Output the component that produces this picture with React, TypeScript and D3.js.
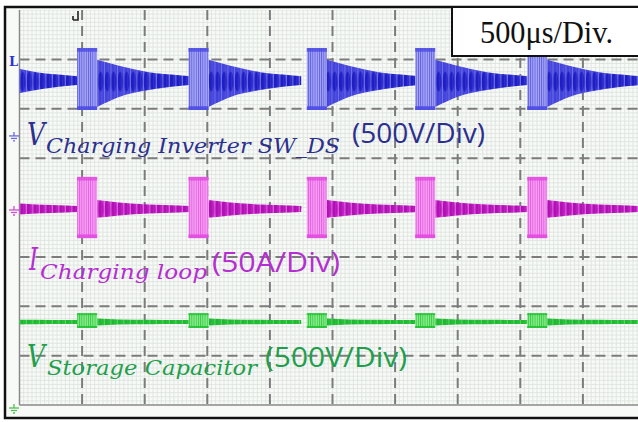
import React from "react";
import * as d3 from "d3";

// time axis: 10 div x 500us, vertical: 8 div
const burstStartsUs = [-440, 460, 1350, 2295, 3160, 4055];
const burstLenUs = 160;
const decayTimesUs = [160, 335, 575, 815, 900];

const channels = [
  {
    name: "blue",
    center: 2.55,
    burstHi: 0.68,
    burstLo: -0.575,
    decayHi: [0.44, 0.32, 0.19, 0.13, 0.11],
    decayLo: [-0.515, -0.31, -0.17, -0.09, -0.07],
    core: "#4444dc",
    dark: "#1e1ec4",
    light: "#a9a9f2",
    hatch: "#4a4ae4",
  },
  {
    name: "magenta",
    center: -0.03,
    burstHi: 0.65,
    burstLo: -0.59,
    decayHi: [0.18, 0.13, 0.09, 0.07, 0.06],
    decayLo: [-0.18, -0.13, -0.09, -0.07, -0.06],
    core: "#d43ad6",
    dark: "#b010b4",
    light: "#f4a3f2",
    hatch: "#e24ae0",
  },
  {
    name: "green",
    center: -2.32,
    burstHi: 0.18,
    burstLo: -0.12,
    decayHi: [0.07, 0.05, 0.045, 0.04, 0.04],
    decayLo: [-0.07, -0.05, -0.045, -0.04, -0.04],
    core: "#2ccc40",
    dark: "#1fb832",
    light: "#8beb8c",
    hatch: "#22c233",
  },
];

const labels = [
  { main: "V", sub: "Charging Inverter SW_DS", scale: "(500V/Div)", color: "#2b2f8e",
    mx: 27, my: 145, mw: 18, sx: 46, sy: 153, sw: 294, px: 352, py: 143, pw: 133, ps: 27 },
  { main: "I", sub: "Charging loop", scale: "(50A/Div)", color: "#b52ed0",
    mx: 29, my: 270, mw: 9, sx: 40, sy: 279, sw: 167, px: 212, py: 272, pw: 128, ps: 27 },
  { main: "V", sub: "Storage Capacitor", scale: "(500V/Div)", color: "#1f9f4c",
    mx: 27, my: 367, mw: 18, sx: 47, sy: 375, sw: 210, px: 265, py: 367, pw: 142, ps: 28 },
];

const W = 638;
const H = 422;

export default function App() {
  const x = d3.scaleLinear().domain([0, 5000]).range([19.5, 645.5]);
  const y = d3.scaleLinear().domain([4, -4]).range([10, 405]);

  const majorX = d3.range(0, 5001, 500);
  const majorY = d3.range(-4, 5, 1);
  const minorX = d3.range(0, 151).map((i) => (i * 500) / 15);
  const minorY = d3.range(0, 97).map((i) => -4 + i / 12);

  const decayArea = (start: number, ch: any) =>
    d3
      .area<number>()
      .x((_, i) => x(start + decayTimesUs[i]))
      .y0((_, i) => y(ch.center + ch.decayLo[i]))
      .y1((_, i) => y(ch.center + ch.decayHi[i]))
      .curve(d3.curveMonotoneX)(decayTimesUs);

  return (
    <svg
      width={W}
      height={H}
      style={{ position: "absolute", left: 0, top: 0, background: "#fff" }}
    >
      <defs>
        <clipPath id="screen">
          <rect x={x(0)} y={y(4)} width={x(5000) - x(0)} height={y(-4) - y(4)} />
        </clipPath>
        {channels.map((ch) => (
          <pattern
            key={ch.name}
            id={"hatch-" + ch.name}
            width={2.2}
            height={6}
            patternUnits="userSpaceOnUse"
          >
            <rect width={2.2} height={6} fill={ch.light} />
            <rect width={0.9} height={6} fill={ch.hatch} opacity={0.8} />
          </pattern>
        ))}
        {channels.map((ch) => (
          <pattern
            key={ch.name}
            id={"tex-" + ch.name}
            width={6.5}
            height={80}
            y={y(ch.center) - 40}
            patternUnits="userSpaceOnUse"
          >
            <rect width={6.5} height={80} fill={ch.core} />
            <ellipse cx={3.25} cy={40} rx={2.7} ry={10} fill={ch.dark} />
            <rect x={0.2} width={0.7} height={80} fill={ch.light} opacity={0.6} />
            <rect x={4.3} width={0.5} height={80} fill={ch.light} opacity={0.35} />
          </pattern>
        ))}
      </defs>

      <rect x={5} y={7} width={W} height={411} fill="#f7faf7" stroke="#111" strokeWidth={2.5} />

      <g clipPath="url(#screen)">
        {minorX.map((t, i) => (
          <line key={"mx" + i} x1={x(t)} x2={x(t)} y1={y(4)} y2={y(-4)} stroke="#dde2dd" strokeWidth={0.8} />
        ))}
        {minorY.map((v, i) => (
          <line key={"my" + i} x1={x(0)} x2={x(5000)} y1={y(v)} y2={y(v)} stroke="#dde2dd" strokeWidth={0.8} />
        ))}
      </g>
      {majorX.slice(1).map((t) => (
        <line key={"Mx" + t} x1={x(t)} x2={x(t)} y1={y(4)} y2={y(-4)} stroke="#7c7c7c" strokeWidth={2} strokeDasharray="10 6" />
      ))}
      {majorY.slice(1, -1).map((v) => (
        <line key={"My" + v} x1={x(0)} x2={x(5000)} y1={y(v)} y2={y(v)} stroke="#7c7c7c" strokeWidth={2} strokeDasharray="10 6" />
      ))}
      <line x1={x(0)} x2={x(0)} y1={y(4)} y2={y(-4)} stroke="#8a8a8a" strokeWidth={1.5} />
      <line x1={x(0)} x2={x(5000)} y1={y(-4)} y2={y(-4)} stroke="#8a8a8a" strokeWidth={1.5} />

      <g clipPath="url(#screen)">
        {channels.map((ch) => (
          <g key={ch.name}>
            {burstStartsUs.map((s) => (
              <path key={"d" + s} d={decayArea(s, ch) || ""} fill={"url(#tex-" + ch.name + ")"} />
            ))}
            {burstStartsUs.map((s) => {
              const x0 = x(s);
              const x1 = x(s + burstLenUs);
              const top = y(ch.center + ch.burstHi);
              const bot = y(ch.center + ch.burstLo);
              const edge = Math.max(2, (bot - top) * 0.06);
              return (
                <g key={"b" + s}>
                  <rect x={x0} y={top} width={x1 - x0} height={bot - top} fill={"url(#hatch-" + ch.name + ")"} />
                  <rect x={x0} y={top} width={x1 - x0} height={edge} fill={ch.hatch} opacity={0.8} />
                  <rect x={x0} y={bot - edge} width={x1 - x0} height={edge} fill={ch.hatch} opacity={0.9} />
                </g>
              );
            })}
          </g>
        ))}
      </g>

      {/* channel markers */}
      <text x={9} y={66} fontFamily="DejaVu Serif" fontSize={13} fontWeight="bold" fill="#3030d0">L</text>
      {[
        { c: "#6a6ae0", v: channels[0].center - 1.08 },
        { c: "#d050d0", v: channels[1].center },
        { c: "#50c050", v: -4 },
      ].map((m, i) => {
        const cy = y(m.v) + (i === 2 ? 3 : 1);
        return (
          <g key={"g" + i} stroke={m.c} strokeWidth={1.3}>
            <line x1={14} x2={14} y1={cy - 4} y2={cy} />
            <line x1={9} x2={19} y1={cy} y2={cy} />
            <line x1={11} x2={17} y1={cy + 2.5} y2={cy + 2.5} />
            <line x1={13} x2={15} y1={cy + 5} y2={cy + 5} />
          </g>
        );
      })}
      <path d="M78 11 V20 H73 M73 16 V20" stroke="#222" strokeWidth={1.6} fill="none" />

      {labels.map((l, i) => (
        <g key={"l" + i} fill={l.color}>
          <text x={l.mx} y={l.my} fontFamily="DejaVu Serif" fontStyle="italic" fontSize={32}
            textLength={l.mw} lengthAdjust="spacingAndGlyphs">{l.main}</text>
          <text x={l.sx} y={l.sy} fontFamily="DejaVu Serif" fontStyle="italic" fontSize={21}
            textLength={l.sw} lengthAdjust="spacingAndGlyphs">{l.sub}</text>
          <text x={l.px} y={l.py} fontFamily="Open Sans" fontSize={l.ps}
            textLength={l.pw} lengthAdjust="spacingAndGlyphs">{l.scale}</text>
        </g>
      ))}

      <rect x={452} y={7} width={200} height={49} fill="#fff" stroke="#111" strokeWidth={2} />
      <text x={480} y={43} fontFamily="Liberation Serif" fontSize={31} fill="#111"
        textLength={133} lengthAdjust="spacingAndGlyphs">500μs/Div.</text>
    </svg>
  );
}
